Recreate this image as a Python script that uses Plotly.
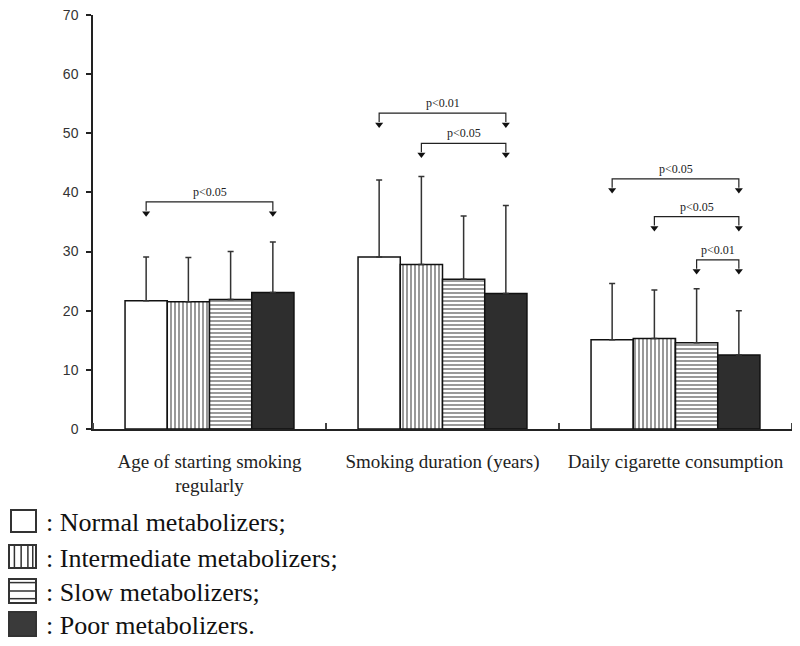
import plotly.graph_objects as go

categories = ["Age of starting smoking<br>regularly", "Smoking duration (years)", "Daily cigarette consumption"]
groups = ["Normal metabolizers", "Intermediate metabolizers", "Slow metabolizers", "Poor metabolizers"]
normal_mean = [21.7, 29.1, 15.1]
intermediate_mean = [21.5, 27.8, 15.3]
slow_mean = [21.9, 25.3, 14.6]
poor_mean = [23.1, 22.9, 12.5]
normal_sd = [7.4, 13.0, 9.5]
intermediate_sd = [7.5, 14.9, 8.2]
slow_sd = [8.1, 10.7, 9.1]
poor_sd = [8.5, 14.9, 7.5]
y_ticks = [0, 10, 20, 30, 40, 50, 60, 70]
# significance brackets: (category index, from group, to group, level, label)
brackets = [
    (0, 0, 3, 38.4, "p<0.05"),
    (1, 0, 3, 53.4, "p<0.01"),
    (1, 1, 3, 48.3, "p<0.05"),
    (2, 0, 3, 42.3, "p<0.05"),
    (2, 1, 3, 35.9, "p<0.05"),
    (2, 2, 3, 28.6, "p<0.01"),
]
legend_labels = [": Normal metabolizers;", ": Intermediate metabolizers;", ": Slow metabolizers;", ": Poor metabolizers."]

means = [normal_mean, intermediate_mean, slow_mean, poor_mean]
sds = [normal_sd, intermediate_sd, slow_sd, poor_sd]

BARGAP = 0.275
OFF = 8  # page body margin
W, H = 800 - OFF, 646 - OFF
ML, MR, MT, MB = 93 - OFF, 8, 15 - OFF, 217
PW, PH = W - ML - MR, H - MT - MB

styles = [
    dict(color="white"),
    dict(color="white", pattern=dict(shape="|", size=4, solidity=0.3, fgcolor="#555555", bgcolor="white")),
    dict(color="white", pattern=dict(shape="-", size=4, solidity=0.3, fgcolor="#555555", bgcolor="white")),
    dict(color="#2e2e2e"),
]

fig = go.Figure()
xs = list(range(len(categories)))
for i, g in enumerate(groups):
    fig.add_trace(go.Bar(
        x=xs, y=means[i], name=g, showlegend=False,
        marker=dict(line=dict(color="#111111", width=1.5), **styles[i]),
        error_y=dict(type="data", symmetric=False, array=sds[i], arrayminus=[0] * len(xs),
                     color="#333333", thickness=1.5, width=3),
    ))

ng = len(groups)
gw = 1 - BARGAP
def bar_center(c, k):
    return c - gw / 2 + (k + 0.5) * gw / ng

annotations = []
for c, a, b, lvl, lab in brackets:
    xa, xb = bar_center(c, a), bar_center(c, b)
    fig.add_trace(go.Scatter(x=[xa, xa, xb, xb], y=[lvl - 1.5, lvl, lvl, lvl - 1.5], mode="lines",
                             line=dict(color="#222222", width=1.2), showlegend=False, hoverinfo="skip"))
    fig.add_trace(go.Scatter(x=[xa, xb], y=[lvl - 1.9, lvl - 1.9], mode="markers",
                             marker=dict(symbol="triangle-down", size=7, color="#111111"),
                             showlegend=False, hoverinfo="skip"))
    annotations.append(dict(x=(xa + xb) / 2, y=lvl, xref="x", yref="y", text=lab, showarrow=False,
                            yanchor="bottom", yshift=1,
                            font=dict(family="Liberation Serif", size=12, color="#222222")))

# manual legend (page pixel -> paper)
def px(xp):
    return (xp - OFF - ML) / PW
def py(yp):
    return (MT + PH - (yp - OFF)) / PH

shapes = []
rows = [(11, 510, 36, 532), (9, 545, 36, 568), (9, 579, 36, 603), (9, 612, 36, 636)]
for i, (x0, y0, x1, y1) in enumerate(rows):
    fill = "#3a3a3a" if i == 3 else "white"
    shapes.append(dict(type="rect", xref="paper", yref="paper", x0=px(x0), x1=px(x1), y0=py(y1), y1=py(y0),
                       line=dict(color="#333333", width=2), fillcolor=fill))
    if i == 1:
        for f in [0.2, 0.45, 0.7, 0.88]:
            xx = x0 + f * (x1 - x0)
            shapes.append(dict(type="line", xref="paper", yref="paper", x0=px(xx), x1=px(xx),
                               y0=py(y1), y1=py(y0), line=dict(color="#333333", width=1.5)))
    if i == 2:
        for f in [0.15, 0.5, 0.82]:
            yy = y0 + f * (y1 - y0)
            shapes.append(dict(type="line", xref="paper", yref="paper", x0=px(x0), x1=px(x1),
                               y0=py(yy), y1=py(yy), line=dict(color="#333333", width=1.5)))
    annotations.append(dict(x=px(44), y=py((y0 + y1) / 2 + 1.5), xref="paper", yref="paper", text=legend_labels[i],
                            showarrow=False, xanchor="left", yanchor="middle",
                            font=dict(family="Liberation Serif", size=26, color="#111111")))

fig.update_layout(
    template="none",
    width=W, height=H, margin=dict(l=ML, r=MR, t=MT, b=MB, autoexpand=False),
    paper_bgcolor="white", plot_bgcolor="white",
    barmode="group", bargap=BARGAP, bargroupgap=0,
    shapes=shapes, annotations=annotations,
    xaxis=dict(range=[-0.5, 2.5], tickmode="array", tickvals=xs, ticktext=categories, ticks="",
               automargin=False, ticklabeloverflow="allow",
               showline=True, linecolor="#222222", linewidth=1.5, showgrid=False, zeroline=False,
               ticklabelstandoff=14,
               tickfont=dict(family="Liberation Serif", size=19, color="#222222"),
               minor=dict(tickmode="array", tickvals=[-0.5, 0.5, 1.5, 2.5], ticks="inside", ticklen=6,
                          tickcolor="#444444", tickwidth=1.5, showgrid=False)),
    yaxis=dict(range=[0, 70], tickmode="array", tickvals=y_ticks, ticks="outside", ticklen=5,
               automargin=False, ticklabeloverflow="allow", ticklabelstandoff=5,
               tickcolor="#222222", tickwidth=1.5,
               showline=True, linecolor="#222222", linewidth=1.5, showgrid=False, zeroline=False,
               tickfont=dict(family="Liberation Sans", size=14, color="#333333")),
)

fig.write_html("out.html")
